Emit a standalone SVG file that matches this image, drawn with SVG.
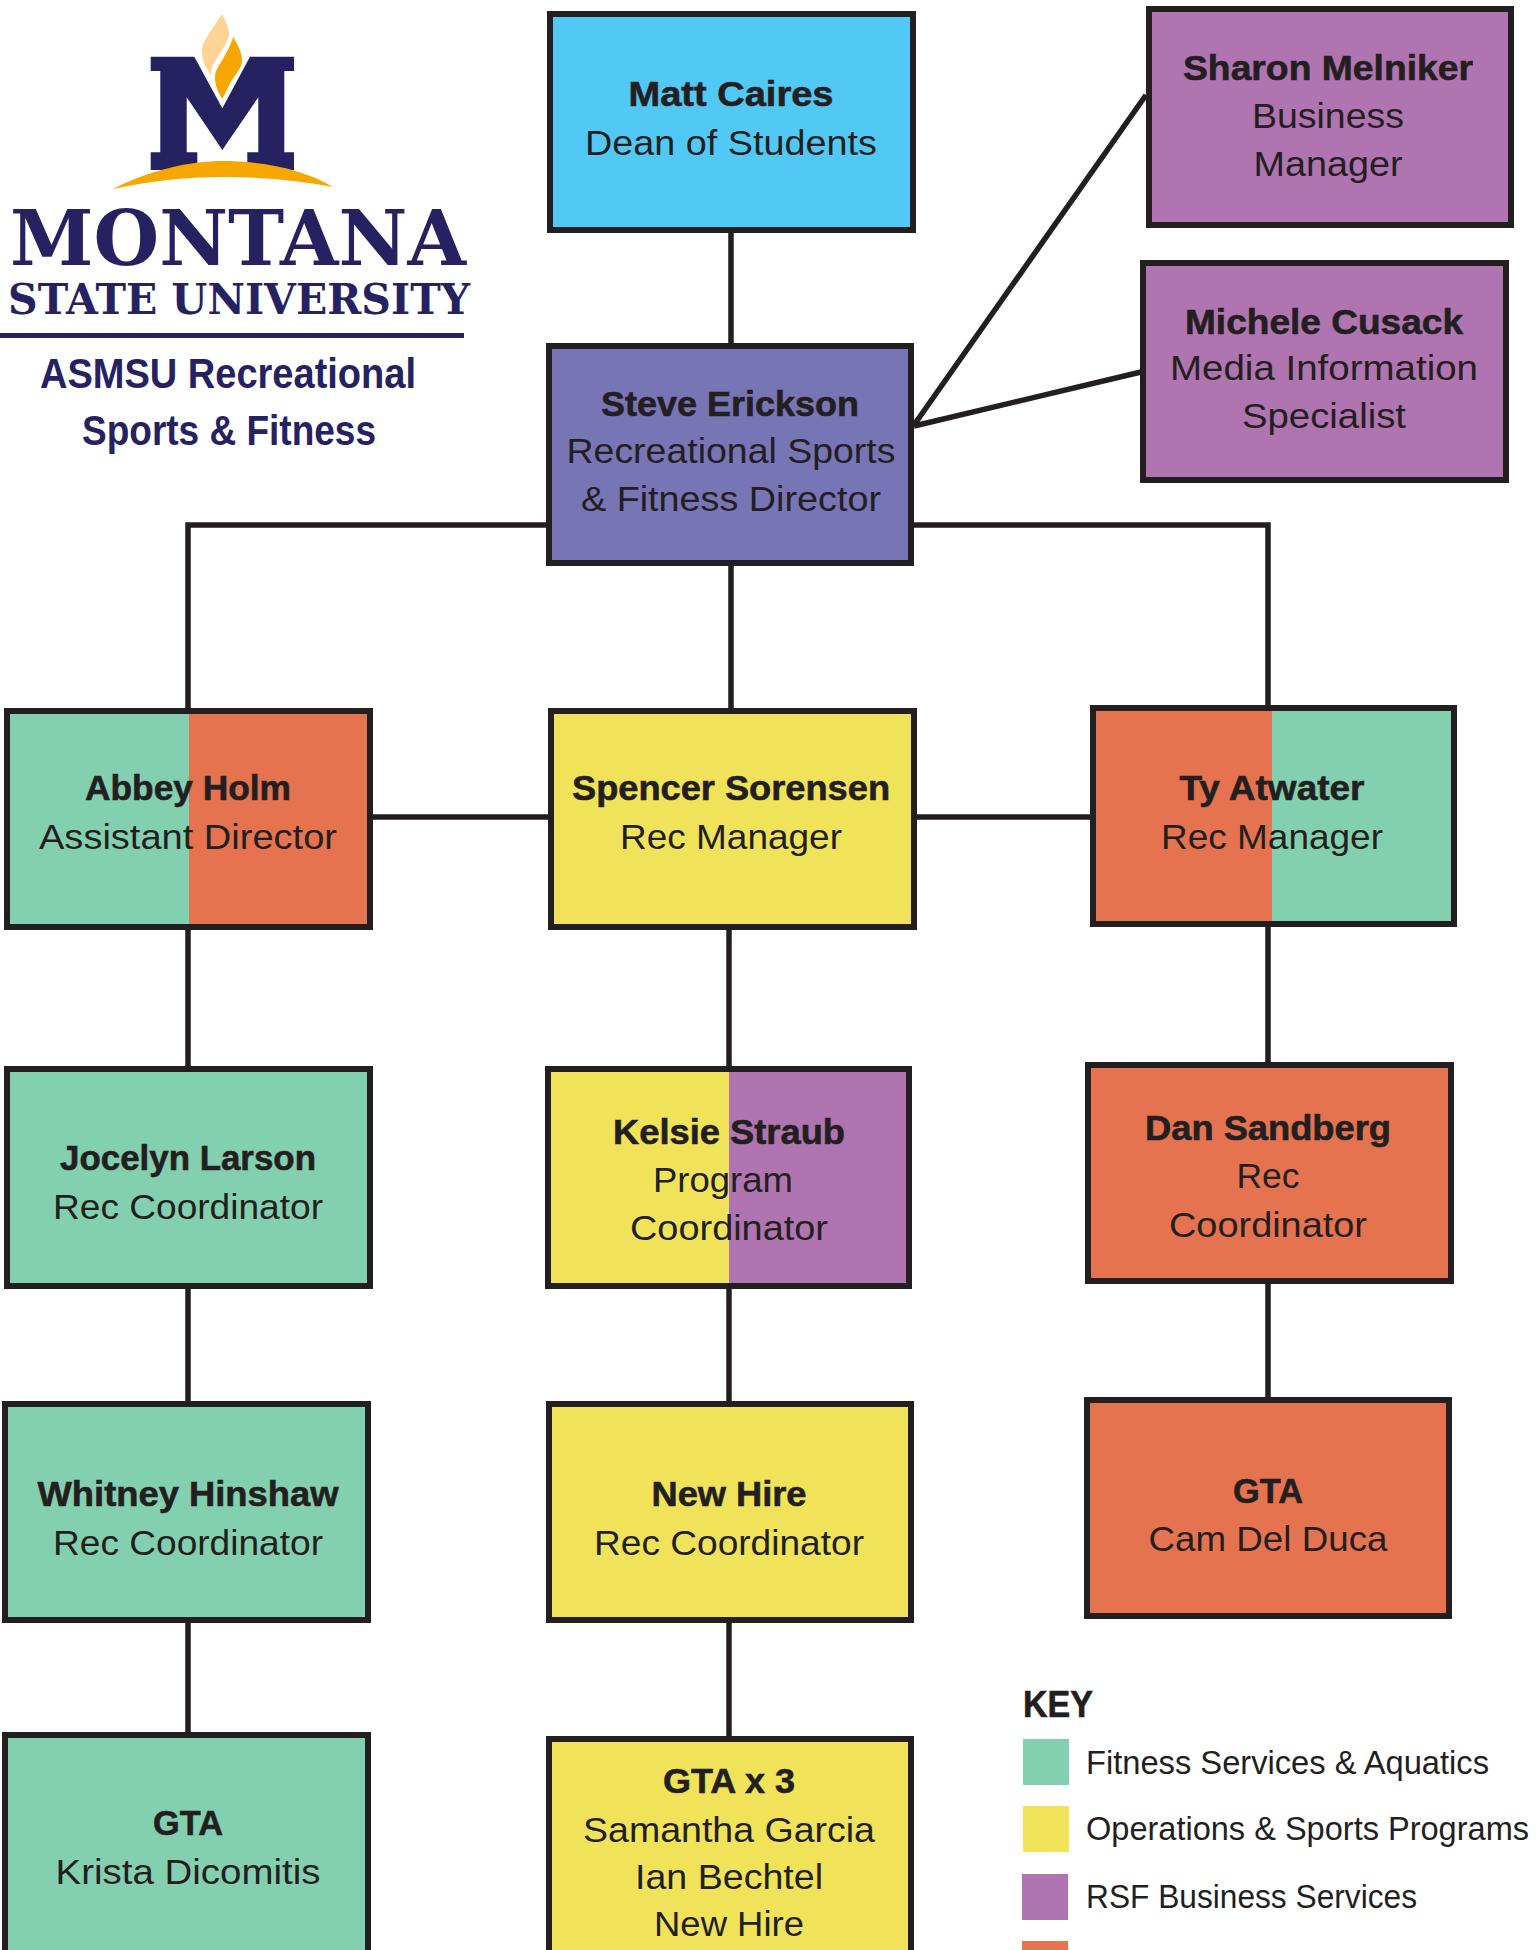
<svg xmlns="http://www.w3.org/2000/svg" width="1539" height="1950" viewBox="0 0 1539 1950">
<style>
text{font-family:"Liberation Sans",Arial,sans-serif;fill:#231f20;text-anchor:middle;font-size:35px}
.n{font-weight:700;stroke:#231f20;stroke-width:.6}
.box{fill:none;stroke:#231f20;stroke-width:6}
.g{fill:#83d0b0}.y{fill:#f0e35a}.p{fill:#b075b0}.o{fill:#e57350}.b{fill:#52c8f5}.i{fill:#7775b5}
.c{fill:none;stroke:#231f20;stroke-width:5.5}
text.lt{text-anchor:start;font-size:33px}
.logo{fill:#262262}
text.s{font-family:"DejaVu Serif",serif;font-weight:700;text-anchor:start;fill:#262262}
text.m1{font-size:76px}
text.m2{font-size:42px}
text.u{font-family:"Liberation Sans Narrow","Liberation Sans",sans-serif;font-weight:700;font-size:42px;fill:#262262}
text.k{font-size:36px}
</style>
<g id="connectors" class="c">
<path d="M731 231V343M914 425L1146 95M914 426L1141 372M546 525H188V709M914 525H1268V706M731 566V709M372 817H548M916 817H1090M188 929V1066M729 929V1066M1268 926V1062M188 1287V1401M729 1287V1401M1268 1283V1397M188 1621V1732M729 1621V1736"/>
</g>
<g id="logo">
<path class="logo" d="M150.700 56.700H194.300L222.300 108.300L250 56.700H294V71H284.300V152.300H294V170H247.300V152.300H258.300V97.300L222.300 150L186.700 97.300V152.300H197.300V170H150.700V152.300H160.300V71H150.700Z"/>
<path fill="#fdd493" d="M221.700 14C226 21 230 30 229 36C227 44 219 54 213 65C211 70 211 73 211.700 76C206 69 201.700 60 201.700 50C202 42 216 24 221.700 14Z"/>
<path fill="#f7a800" d="M233.300 36.700C237 44 242 52 242 60C242 68 237 72 232 80C229 85 226 92 222.300 99C218 92 215 85 215 78C215 70 219 66 224 57C228 50 231 44 233.300 36.700Z"/>
<path fill="#f7a800" d="M113 189C150 170 190 161 222 161C265 161 305 170 333 187C295 180 260 177 222 177C185 177 150 181 113 189Z"/>
<text class="s m1" x="10" y="265" textLength="456" lengthAdjust="spacingAndGlyphs">MONTANA</text>
<text class="s m2" x="8" y="314" textLength="462" lengthAdjust="spacingAndGlyphs">STATE UNIVERSITY</text>
<rect class="logo" x="0" y="333" width="464" height="5"/>
<text class="u" x="228" y="388" textLength="376" lengthAdjust="spacingAndGlyphs">ASMSU Recreational</text>
<text class="u" x="229" y="445" textLength="294" lengthAdjust="spacingAndGlyphs">Sports &amp; Fitness</text>
</g>
<g id="matt"><rect class="b" x="550" y="14" width="363" height="216"/><rect class="box" x="550" y="14" width="363" height="216"/>
<text class="n" x="731" y="106" textLength="205" lengthAdjust="spacingAndGlyphs">Matt Caires</text><text x="731" y="155" textLength="292" lengthAdjust="spacingAndGlyphs">Dean of Students</text></g>
<g id="sharon"><rect class="p" x="1149" y="9" width="362" height="216"/><rect class="box" x="1149" y="9" width="362" height="216"/>
<text class="n" x="1328" y="80" textLength="290" lengthAdjust="spacingAndGlyphs">Sharon Melniker</text><text x="1328" y="128" textLength="152" lengthAdjust="spacingAndGlyphs">Business</text><text x="1328" y="176" textLength="149" lengthAdjust="spacingAndGlyphs">Manager</text></g>
<g id="michele"><rect class="p" x="1143" y="263" width="363" height="217"/><rect class="box" x="1143" y="263" width="363" height="217"/>
<text class="n" x="1324" y="334" textLength="278" lengthAdjust="spacingAndGlyphs">Michele Cusack</text><text x="1324" y="380" textLength="308" lengthAdjust="spacingAndGlyphs">Media Information</text><text x="1324" y="428" textLength="164" lengthAdjust="spacingAndGlyphs">Specialist</text></g>
<g id="steve"><rect class="i" x="549" y="346" width="362" height="217"/><rect class="box" x="549" y="346" width="362" height="217"/>
<text class="n" x="730" y="416" textLength="258" lengthAdjust="spacingAndGlyphs">Steve Erickson</text><text x="731" y="463" textLength="329" lengthAdjust="spacingAndGlyphs">Recreational Sports</text><text x="731" y="511" textLength="300" lengthAdjust="spacingAndGlyphs">&amp; Fitness Director</text></g>
<g id="abbey"><rect class="g" x="7" y="711" width="182" height="216"/><rect class="o" x="189" y="711" width="181" height="216"/><rect class="box" x="7" y="711" width="363" height="216"/>
<text class="n" x="188" y="800" textLength="206" lengthAdjust="spacingAndGlyphs">Abbey Holm</text><text x="188" y="849" textLength="298" lengthAdjust="spacingAndGlyphs">Assistant Director</text></g>
<g id="spencer"><rect class="y" x="551" y="711" width="363" height="216"/><rect class="box" x="551" y="711" width="363" height="216"/>
<text class="n" x="731" y="800" textLength="318" lengthAdjust="spacingAndGlyphs">Spencer Sorensen</text><text x="731" y="849" textLength="222" lengthAdjust="spacingAndGlyphs">Rec Manager</text></g>
<g id="ty"><rect class="o" x="1093" y="708" width="179" height="216"/><rect class="g" x="1272" y="708" width="182" height="216"/><rect class="box" x="1093" y="708" width="361" height="216"/>
<text class="n" x="1272" y="800" textLength="185" lengthAdjust="spacingAndGlyphs">Ty Atwater</text><text x="1272" y="849" textLength="222" lengthAdjust="spacingAndGlyphs">Rec Manager</text></g>
<g id="jocelyn"><rect class="g" x="7" y="1069" width="363" height="217"/><rect class="box" x="7" y="1069" width="363" height="217"/>
<text class="n" x="188" y="1170" textLength="256" lengthAdjust="spacingAndGlyphs">Jocelyn Larson</text><text x="188" y="1219" textLength="270" lengthAdjust="spacingAndGlyphs">Rec Coordinator</text></g>
<g id="kelsie"><rect class="y" x="548" y="1069" width="181" height="217"/><rect class="p" x="729" y="1069" width="180" height="217"/><rect class="box" x="548" y="1069" width="361" height="217"/>
<text class="n" x="729" y="1144" textLength="232" lengthAdjust="spacingAndGlyphs">Kelsie Straub</text><text x="723" y="1192" textLength="140" lengthAdjust="spacingAndGlyphs">Program</text><text x="729" y="1240" textLength="198" lengthAdjust="spacingAndGlyphs">Coordinator</text></g>
<g id="dan"><rect class="o" x="1088" y="1065" width="363" height="216"/><rect class="box" x="1088" y="1065" width="363" height="216"/>
<text class="n" x="1268" y="1140" textLength="246" lengthAdjust="spacingAndGlyphs">Dan Sandberg</text><text x="1268" y="1188" textLength="63" lengthAdjust="spacingAndGlyphs">Rec</text><text x="1268" y="1237" textLength="198" lengthAdjust="spacingAndGlyphs">Coordinator</text></g>
<g id="whitney"><rect class="g" x="5" y="1404" width="363" height="216"/><rect class="box" x="5" y="1404" width="363" height="216"/>
<text class="n" x="188" y="1506" textLength="301" lengthAdjust="spacingAndGlyphs">Whitney Hinshaw</text><text x="188" y="1555" textLength="270" lengthAdjust="spacingAndGlyphs">Rec Coordinator</text></g>
<g id="newhire"><rect class="y" x="549" y="1404" width="362" height="216"/><rect class="box" x="549" y="1404" width="362" height="216"/>
<text class="n" x="729" y="1506" textLength="155" lengthAdjust="spacingAndGlyphs">New Hire</text><text x="729" y="1555" textLength="270" lengthAdjust="spacingAndGlyphs">Rec Coordinator</text></g>
<g id="cam"><rect class="o" x="1087" y="1400" width="362" height="216"/><rect class="box" x="1087" y="1400" width="362" height="216"/>
<text class="n" x="1268" y="1503" textLength="70" lengthAdjust="spacingAndGlyphs">GTA</text><text x="1268" y="1551" textLength="239" lengthAdjust="spacingAndGlyphs">Cam Del Duca</text></g>
<g id="krista"><rect class="g" x="5" y="1735" width="363" height="222"/><rect class="box" x="5" y="1735" width="363" height="222"/>
<text class="n" x="188" y="1835" textLength="70" lengthAdjust="spacingAndGlyphs">GTA</text><text x="188" y="1884" textLength="265" lengthAdjust="spacingAndGlyphs">Krista Dicomitis</text></g>
<g id="gta3"><rect class="y" x="549" y="1739" width="362" height="218"/><rect class="box" x="549" y="1739" width="362" height="218"/>
<text class="n" x="729" y="1793" textLength="132" lengthAdjust="spacingAndGlyphs">GTA x 3</text><text x="729" y="1842" textLength="292" lengthAdjust="spacingAndGlyphs">Samantha Garcia</text><text x="729" y="1889" textLength="188" lengthAdjust="spacingAndGlyphs">Ian Bechtel</text><text x="729" y="1936" textLength="150" lengthAdjust="spacingAndGlyphs">New Hire</text></g>
<g id="key">
<text class="n lt k" x="1023" y="1717" textLength="70" lengthAdjust="spacingAndGlyphs">KEY</text>
<rect class="g" x="1023" y="1739" width="46" height="46"/>
<text class="lt" x="1086" y="1774" textLength="403" lengthAdjust="spacingAndGlyphs">Fitness Services &amp; Aquatics</text>
<rect class="y" x="1023" y="1806" width="46" height="46"/>
<text class="lt" x="1086" y="1840" textLength="443" lengthAdjust="spacingAndGlyphs">Operations &amp; Sports Programs</text>
<rect class="p" x="1022" y="1874" width="46" height="46"/>
<text class="lt" x="1086" y="1908" textLength="331" lengthAdjust="spacingAndGlyphs">RSF Business Services</text>
<rect class="o" x="1022" y="1941" width="46" height="9"/>
</g>
</svg>
